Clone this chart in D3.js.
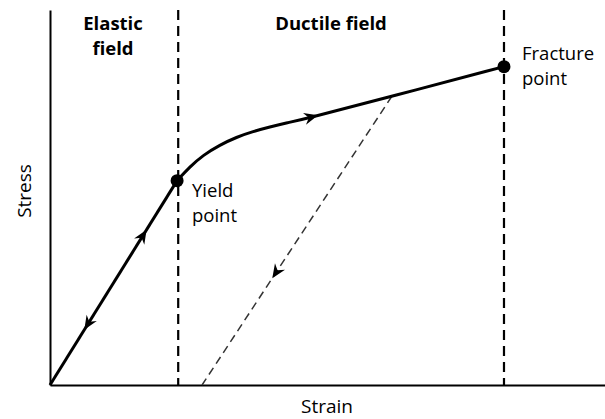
<!DOCTYPE html>
<html>
<head>
<meta charset="utf-8">
<script src="https://cdn.jsdelivr.net/npm/d3@7"></script>
<style>
  body { margin: 0; background: #fff; }
  text { font-family: "Open Sans", "Noto Sans", sans-serif; fill: #000; }
</style>
</head>
<body>
<div id="chart"></div>
<script>
  // stress-strain curve, arbitrary units (strain 0..100, stress 0..100)
  var elastic = [
    {strain: 0, stress: 0},
    {strain: 22.9, stress: 54.5}
  ];
  var ductile = [
    {strain: 22.9, stress: 54.5},
    {strain: 25.2, stress: 58.2},
    {strain: 27.6, stress: 61.3},
    {strain: 30.6, stress: 64.0},
    {strain: 33.6, stress: 66.1},
    {strain: 36.6, stress: 67.6},
    {strain: 39.6, stress: 68.8},
    {strain: 42.7, stress: 69.9},
    {strain: 46.3, stress: 71.1},
    {strain: 61.6, stress: 77.0},
    {strain: 81.8, stress: 84.9}
  ];
  var unload = [
    {strain: 61.6, stress: 77.0},
    {strain: 27.4, stress: 0}
  ];
  var boundaries = [23.1, 81.8];
  var keyPoints = [
    {name: "Yield", strain: 22.9, stress: 54.5},
    {name: "Fracture", strain: 81.8, stress: 84.9}
  ];
  // arrows: which line, position along it (0..1), direction (+1 forward, -1 back)
  var arrows = [
    {line: "elastic", t: 0.76, dir: 1},
    {line: "elastic", t: 0.27, dir: -1},
    {line: "ductile", strain: 48.3},
    {line: "unload", t: 0.63, dir: 1}
  ];

  var W = 605, H = 419;
  var margin = {top: 10, right: 0, bottom: 34, left: 50},
      width = W - margin.left - margin.right,
      height = H - margin.top - margin.bottom;

  var svg = d3.select("#chart").append("svg")
      .attr("width", W)
      .attr("height", H);

  var g = svg.append("g")
      .attr("transform", "translate(" + margin.left + "," + margin.top + ")");

  var x = d3.scaleLinear().domain([0, 100]).range([0, width]);
  var y = d3.scaleLinear().domain([0, 100]).range([height, 0]);

  // axes (no ticks)
  g.append("g")
    .attr("transform", "translate(0," + height + ")")
    .call(d3.axisBottom(x).tickValues([]).tickSizeOuter(0))
    .select(".domain").attr("stroke-width", 2);
  g.append("g")
    .call(d3.axisLeft(y).tickValues([]).tickSizeOuter(0))
    .select(".domain").attr("stroke-width", 2);

  // field boundaries
  g.selectAll(".boundary")
    .data(boundaries)
    .enter().append("line")
      .attr("class", "boundary")
      .attr("x1", function(d) { return x(d); })
      .attr("x2", function(d) { return x(d); })
      .attr("y1", y(100))
      .attr("y2", y(0))
      .attr("stroke", "#000")
      .attr("stroke-width", 2.2)
      .attr("stroke-dasharray", "10,6");

  var line = d3.line()
    .x(function(d) { return x(d.strain); })
    .y(function(d) { return y(d.stress); });

  // unload path
  g.append("path")
    .datum(unload)
    .attr("d", line)
    .attr("fill", "none")
    .attr("stroke", "#333")
    .attr("stroke-width", 1.5)
    .attr("stroke-dasharray", "8,5");

  g.append("path")
    .datum(elastic)
    .attr("d", line)
    .attr("fill", "none")
    .attr("stroke", "#000")
    .attr("stroke-width", 3);

  var ductilePath = g.append("path")
    .datum(ductile)
    .attr("d", line.curve(d3.curveBasis))
    .attr("fill", "none")
    .attr("stroke", "#000")
    .attr("stroke-width", 3);
  line.curve(d3.curveLinear);

  // arrowheads
  var lines = {elastic: elastic, unload: unload};
  var headPath = "M0,0L-14,-6L-9.5,0L-14,6Z";
  arrows.forEach(function(a) {
    var px, py, ang;
    if (a.line === "ductile") {
      var node = ductilePath.node(), L = node.getTotalLength();
      // find the length at the wanted strain
      var lo = 0, hi = L;
      for (var i = 0; i < 30; i++) {
        var mid = (lo + hi) / 2;
        if (node.getPointAtLength(mid).x < x(a.strain)) lo = mid; else hi = mid;
      }
      var p0 = node.getPointAtLength(lo - 2), p1 = node.getPointAtLength(lo + 2);
      var p = node.getPointAtLength(lo);
      px = p.x; py = p.y;
      ang = Math.atan2(p1.y - p0.y, p1.x - p0.x);
    } else {
      var pts = lines[a.line];
      var s = pts[0].strain + a.t * (pts[1].strain - pts[0].strain);
      var st = pts[0].stress + a.t * (pts[1].stress - pts[0].stress);
      px = x(s); py = y(st);
      ang = Math.atan2(y(pts[1].stress) - y(pts[0].stress), x(pts[1].strain) - x(pts[0].strain));
      if (a.dir < 0) ang += Math.PI;
    }
    g.append("path")
      .attr("d", headPath)
      .attr("fill", "#000")
      .attr("transform", "translate(" + px + "," + py + ") rotate(" + (ang * 180 / Math.PI) + ")");
  });

  // key points
  g.selectAll(".kp")
    .data(keyPoints)
    .enter().append("circle")
      .attr("class", "kp")
      .attr("cx", function(d) { return x(d.strain); })
      .attr("cy", function(d) { return y(d.stress); })
      .attr("r", 6.5)
      .attr("fill", "#000");

  // labels, one text element per line
  function label(tx, ty, lines, opts) {
    lines.forEach(function(s, i) {
      svg.append("text")
        .attr("x", tx).attr("y", ty + i * 25.5)
        .attr("font-size", 18.5)
        .attr("text-anchor", opts.anchor || "start")
        .attr("font-weight", opts.bold ? "bold" : "normal")
        .text(s);
    });
  }
  label(113, 29.5, ["Elastic", "field"], {anchor: "middle", bold: true});
  label(331, 29.5, ["Ductile field"], {anchor: "middle", bold: true});
  label(522, 59.5, ["Fracture", "point"], {});
  label(192, 196.5, ["Yield", "point"], {});

  svg.append("text")
    .attr("x", 327)
    .attr("y", 413)
    .attr("font-size", 19)
    .attr("text-anchor", "middle")
    .text("Strain");
  svg.append("text")
    .attr("transform", "translate(31,191) rotate(-90)")
    .attr("font-size", 19)
    .attr("text-anchor", "middle")
    .text("Stress");
</script>
</body>
</html>
